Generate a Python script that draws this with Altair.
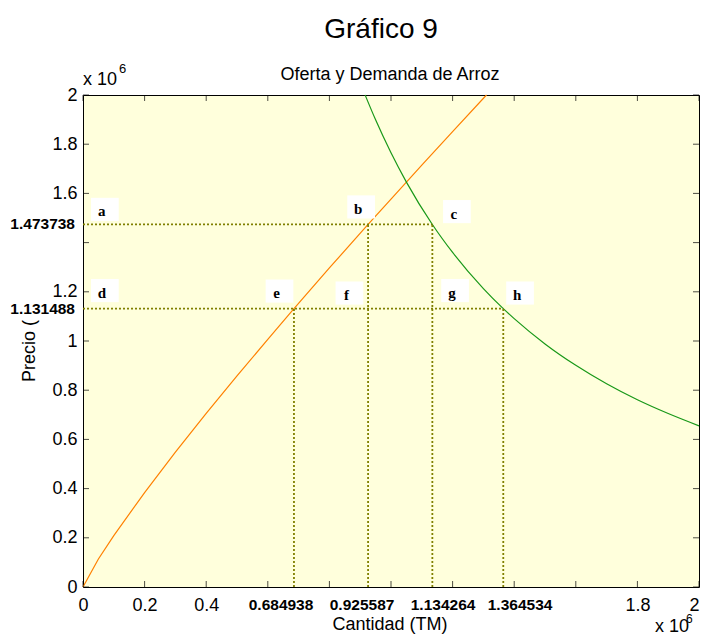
import altair as alt
import pandas as pd

# ---- data (values in millions) ----
supply_q = [0, 0.05, 0.1, 0.2, 0.3, 0.4, 0.5, 0.6, 0.684938, 0.8, 0.925587, 1.0, 1.1, 1.2, 1.31]
supply_p = [0, 0.114, 0.209, 0.384, 0.548, 0.706, 0.858, 1.007, 1.131488, 1.297, 1.473738, 1.577, 1.715, 1.851, 2.0]

demand_q = [0.916, 0.95, 1.0, 1.05, 1.134264, 1.2, 1.3, 1.364534, 1.4, 1.5, 1.6, 1.7, 1.8, 1.9, 2.0]
demand_p = [2.0, 1.899, 1.765, 1.646, 1.473738, 1.360, 1.213, 1.131488, 1.091, 0.988, 0.901, 0.826, 0.761, 0.705, 0.655]

vline_q = [0.684938, 0.925587, 1.134264, 1.364534]
vline_top = [1.131488, 1.473738, 1.473738, 1.131488]
hline_p = [1.473738, 1.131488]
hline_end = [1.134264, 1.364534]

letters = ["a", "b", "c", "d", "e", "f", "g", "h"]
letter_q = [0.071, 0.903, 1.214, 0.071, 0.638, 0.865, 1.208, 1.419]
letter_p = [1.535, 1.545, 1.526, 1.205, 1.203, 1.195, 1.205, 1.195]

xbold_text = ["0.684938", "0.925587", "1.134264", "1.364534"]
xbold_pos = [0.643, 0.906, 1.169, 1.419]
ybold_text = ["1.473738", "1.131488"]
ybold_pos = [1.473738, 1.131488]

tick_vals = [0, 0.2, 0.4, 0.6, 0.8, 1.0, 1.2, 1.4, 1.6, 1.8, 2.0]

W, H = 616, 492
FONT = "Liberation Sans"

supply = pd.DataFrame({"q": supply_q, "p": supply_p})
demand = pd.DataFrame({"q": demand_q, "p": demand_p})
vlines = pd.DataFrame({"q": vline_q, "p0": [0] * len(vline_q), "p1": vline_top})
hlines = pd.DataFrame({"q0": [0] * len(hline_p), "q1": hline_end, "p": hline_p})
hw, hh = 0.045, 0.047
labels = pd.DataFrame({"t": letters, "q": letter_q, "p": letter_p})
labels["q0"] = labels["q"] - hw
labels["q1"] = labels["q"] + hw
labels["p0"] = labels["p"] - hh
labels["p1"] = labels["p"] + hh
xbold = pd.DataFrame({"t": xbold_text, "q": xbold_pos})
ybold = pd.DataFrame({"t": ybold_text, "p": ybold_pos})
ticks = pd.DataFrame({"v": tick_vals})

xs = alt.Scale(domain=[0, 2], nice=False, zero=False)
ys = alt.Scale(domain=[0, 2], nice=False, zero=False)

x_axis = alt.Axis(values=tick_vals, format="~g", domain=False, ticks=False, grid=False,
                  title=None, labelFont=FONT, labelFontSize=18, labelColor="black",
                  labelPadding=9, labelFlush=False,
                  labelAlign={"condition": {"test": "datum.value > 1.9", "value": "right"},
                              "value": "center"},
                  labelExpr="(datum.value > 0.5 && datum.value < 1.7) ? '' : datum.label")
y_axis = alt.Axis(values=tick_vals, format="~g", domain=False, ticks=False, grid=False,
                  title=None, labelFont=FONT, labelFontSize=18, labelColor="black",
                  labelPadding=6, labelFlush=False,
                  labelExpr="abs(datum.value - 1.4) < 0.01 ? '' : datum.label")


def X(f):
    return alt.X(f, scale=xs, axis=x_axis)


def Y(f):
    return alt.Y(f, scale=ys, axis=y_axis)


supply_line = alt.Chart(supply).mark_line(color="#FF8000", strokeWidth=1.2).encode(
    x=X("q:Q"), y=Y("p:Q"))
demand_line = alt.Chart(demand).mark_line(color="#189818", strokeWidth=1.2, interpolate="monotone").encode(
    x=X("q:Q"), y=Y("p:Q"))

dot = dict(color="#808000", strokeWidth=1.8, strokeDash=[2, 2])
vl = alt.Chart(vlines).mark_rule(**dot).encode(x=X("q:Q"), y=Y("p0:Q"), y2="p1:Q")
hl = alt.Chart(hlines).mark_rule(**dot).encode(x=X("q0:Q"), x2="q1:Q", y=Y("p:Q"))

boxes = alt.Chart(labels).mark_rect(fill="white").encode(
    x=X("q0:Q"), x2="q1:Q", y=Y("p0:Q"), y2="p1:Q")
letter_text = alt.Chart(labels).mark_text(font="Liberation Serif", fontWeight="bold", fontSize=15,
                                          align="center", baseline="middle", dx=-3, dy=2,
                                          color="black").encode(
    x=X("q:Q"), y=Y("p:Q"), text="t:N")

xbold_lbl = alt.Chart(xbold).mark_text(font=FONT, fontWeight="bold", fontSize=15.5, align="center",
                                       baseline="alphabetic", color="black").encode(
    x=X("q:Q"), y=alt.value(H + 23), text="t:N")
ybold_lbl = alt.Chart(ybold).mark_text(font=FONT, fontWeight="bold", fontSize=15.5, align="right",
                                       baseline="middle", color="black").encode(
    y=Y("p:Q"), x=alt.value(-8), text="t:N")

tick_kw = dict(color="black", thickness=1, size=6)
xt_bottom = alt.Chart(ticks).mark_tick(orient="vertical", **tick_kw).encode(
    x=X("v:Q"), y=alt.value(H - 3))
xt_top = alt.Chart(ticks).mark_tick(orient="vertical", **tick_kw).encode(
    x=X("v:Q"), y=alt.value(3))
yt_left = alt.Chart(ticks).mark_tick(orient="horizontal", **tick_kw).encode(
    y=Y("v:Q"), x=alt.value(3))
yt_right = alt.Chart(ticks).mark_tick(orient="horizontal", **tick_kw).encode(
    y=Y("v:Q"), x=alt.value(W - 3))


def txt(s, x, y, size, align="left", angle=0, baseline="alphabetic"):
    return alt.Chart(pd.DataFrame({"t": [s]})).mark_text(
        font=FONT, fontSize=size, align=align, baseline=baseline, angle=angle, color="black"
    ).encode(x=alt.value(x), y=alt.value(y), text="t:N")


annotations = [
    txt("Gráfico 9", 298, -57, 28, align="center"),
    txt("Oferta y Demanda de Arroz", 307, -15, 18, align="center"),
    txt("x 10", 0, -10, 18),
    txt("6", 36, -22, 13),
    txt("Cantidad (TM)", 307, 535, 18, align="center"),
    txt("x 10", 572, 537, 18),
    txt("6", 603, 528, 12),
    txt("Precio (", -53, 287, 18, align="left", angle=270, baseline="middle"),
]

chart = alt.layer(
    supply_line, demand_line, vl, hl, boxes, letter_text,
    xt_bottom, xt_top, yt_left, yt_right, xbold_lbl, ybold_lbl, *annotations
).properties(
    width=W, height=H,
    autosize=alt.AutoSizeParams(type="none"),
    padding={"left": 75, "top": 87, "right": 1, "bottom": 48},
).configure_view(fill="#FFFFDC", stroke="black", strokeWidth=1)

chart.save("out.html", embed_options={"renderer": "svg", "actions": False})
